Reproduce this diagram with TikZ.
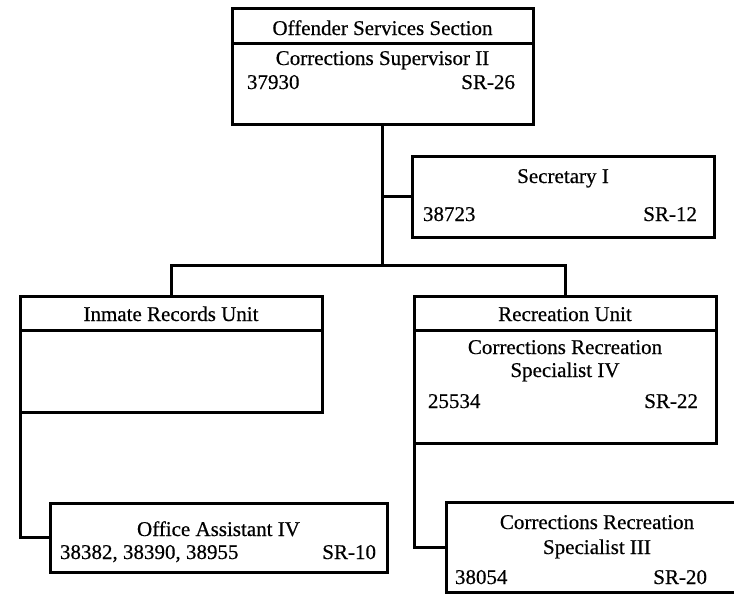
\documentclass[tikz,border=0pt]{standalone}
\usepackage{fontspec}
\setmainfont[FakeBold=0.5]{Liberation Serif}
\begin{document}
\begin{tikzpicture}[x=1pt,y=-1pt,
  box/.style={draw=black,line width=3pt,rectangle,inner sep=0pt,outer sep=0pt},
  conn/.style={draw=black,line width=3pt},
  lbl/.style={inner sep=0pt,outer sep=0pt,font=\fontsize{21}{24}\selectfont},
  cbl/.style={lbl,anchor=base},
  lft/.style={lbl,anchor=base west},
  rgt/.style={lbl,anchor=base east}]
\useasboundingbox (0,0) rectangle (734,603);
\clip (0,0) rectangle (734,603);
% boxes
\node[box,minimum width=301pt,minimum height=116pt] (top) at (382.5,66) {};
\node[box,minimum width=302pt,minimum height=81pt] (sec) at (563,196.5) {};
\node[box,minimum width=302pt,minimum height=116pt] (inm) at (171,354) {};
\node[box,minimum width=302pt,minimum height=147pt] (rec) at (565,369.5) {};
\node[box,minimum width=337pt,minimum height=69pt] (off) at (218.5,537.5) {};
\node[box,minimum width=302pt,minimum height=90pt] (rec3) at (597,547) {};
% header dividers
\draw[conn] (top.west |- 0,43) -- (top.east |- 0,43);
\draw[conn] (inm.west |- 0,330) -- (inm.east |- 0,330);
\draw[conn] (rec.west |- 0,330) -- (rec.east |- 0,330);
% connectors
\coordinate (bus) at (382.5,265);
\draw[conn] (top.south) -- (bus);
\draw[conn] (sec.west) -- (sec.west -| top.south);
\draw[conn] (inm.north) |- (bus) -| (rec.north);
\draw[conn] (inm.south west) |- (off.west);
\draw[conn] (rec.south west) |- (rec3.west);
% texts
\node[cbl] (t1) at (382.5,35) {Offender Services Section};
\node[cbl] (t2) at (382.5,65) {Corrections Supervisor II};
\node[lft] (t3) at (247,89) {37930};
\node[rgt] (t4) at (515,89) {SR-26};
\node[cbl] (t5) at (563,183) {Secretary I};
\node[lft] (t6) at (423,221) {38723};
\node[rgt] (t7) at (697,221) {SR-12};
\node[cbl] (t8) at (171,321) {Inmate Records Unit};
\node[cbl] (t9) at (565,321) {Recreation Unit};
\node[cbl] (t10) at (565,354) {Corrections Recreation};
\node[cbl] (t11) at (565,377) {Specialist IV};
\node[lft] (t12) at (428,408) {25534};
\node[rgt] (t13) at (698,408) {SR-22};
\node[cbl] (t14) at (218.5,536) {Office Assistant IV};
\node[lft] (t15) at (60,559) {38382, 38390, 38955};
\node[rgt] (t16) at (376,559) {SR-10};
\node[cbl] (t17) at (597,529) {Corrections Recreation};
\node[cbl] (t18) at (597,554) {Specialist III};
\node[lft] (t19) at (455,584) {38054};
\node[rgt] (t20) at (707,584) {SR-20};
\end{tikzpicture}
\end{document}
